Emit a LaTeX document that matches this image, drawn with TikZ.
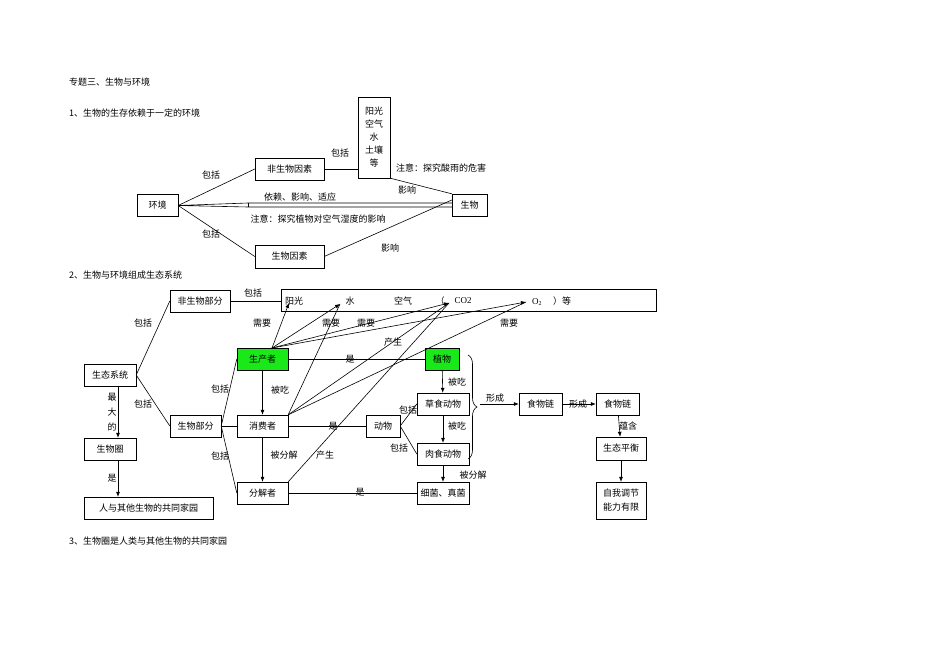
\documentclass[tikz,border=0pt]{standalone}
\usepackage{fontspec}
\setmainfont{Noto Sans CJK SC}
\newfontfamily\lat{Liberation Serif}
\usetikzlibrary{decorations.pathreplacing,arrows.meta}
\begin{document}
\begin{tikzpicture}[x=1pt,y=-1pt,font=\fontsize{9}{11}\selectfont,
 bx/.style={draw,inner sep=0pt,minimum height=22pt},
 gb/.style={bx,fill=green!90!black!90},
 lb/.style={inner sep=1pt},
 ln/.style={line width=0.6pt},
 ar/.style={ln,-{Latex[length=5pt,width=4pt]}}]
\useasboundingbox (0,0) rectangle (950,671);
\node[lb,anchor=west] (t0) at (68,82) {专题三、生物与环境};
\node[lb,anchor=west] (t1) at (68,113) {1、生物的生存依赖于一定的环境};
\node[lb,anchor=west] (t2) at (68,275) {2、生物与环境组成生态系统};
\node[lb,anchor=west] (t3) at (68,541) {3、生物圈是人类与其他生物的共同家园};
% part 1
\node[bx,minimum width=41pt] (hj) at (157.5,205.5) {环境};
\node[bx,minimum width=69pt] (fsw) at (289.5,169) {非生物因素};
\node[draw,minimum width=32pt,minimum height=81pt,inner sep=0pt,align=center,font=\fontsize{9}{13}\selectfont] (yg) at (374,137.5) {阳光\\空气\\水\\土壤\\等};
\node[bx,minimum width=35pt] (sw) at (469.5,205) {生物};
\node[bx,minimum width=69pt,minimum height=23pt] (swy) at (289.5,256.5) {生物因素};
\draw[ln] (hj.east) -- (fsw.west);
\draw[ln] (hj.east) -- (swy.west);
\draw[ln] (fsw.east) -- (yg.west |- fsw.east);
\draw[ln] (yg.south east) -- (sw.north west);
\draw[ln] (swy.east) -- ([yshift=5pt]sw.west);
\coordinate (hA) at (248,203); \coordinate (hB) at (248,207);
\draw[ln] (sw.west |- hA) -- (hA) -- (hj.east) -- (hB) -- (sw.west |- hB);
\draw[ln] (hA) -- (hB);
\node[lb] (a1) at (211,175) {包括};
\node[lb] (a2) at (211,234) {包括};
\node[lb] (a3) at (340,153) {包括};
\node[lb,anchor=west] (a4) at (395,168) {注意：探究酸雨的危害};
\node[lb] (a5) at (407,190) {影响};
\node[lb] (a6) at (300,197) {依赖、影响、适应};
\node[lb] (a7) at (318,219) {注意：探究植物对空气湿度的影响};
\node[lb] (a8) at (390,248) {影响};
% part 2
\node[bx,minimum width=60pt] (fbf) at (200,301) {非生物部分};
\node[bx,minimum width=375pt] (big) at (468.5,300) {};
\node[lb] (y1) at (294,301) {阳光};
\node[lb] (y2) at (350,301) {水};
\node[lb] (y3) at (403,301) {空气};
\node[lb] (y4) at (440,301) {（};
\node[lb] (y5) at (463,301) {\lat CO2};
\node[lb] (y6) at (537,302) {\lat O\textsubscript{2}};
\node[lb] (y7) at (562,301) {）等};
\coordinate (cYG) at (289,303);
\coordinate (cS) at (340,304);
\coordinate (cC) at (449,303);
\coordinate (cO) at (526,302);
\node[bx,minimum width=52pt] (stxt) at (110,375) {生态系统};
\node[bx,minimum width=51pt] (swbf) at (195.5,426) {生物部分};
\node[bx,minimum width=52pt] (swq) at (110,449) {生物圈};
\node[bx,minimum width=129pt] (jy) at (148.5,508) {人与其他生物的共同家园};
\node[gb,minimum width=51pt] (scz) at (262.5,359) {生产者};
\node[bx,minimum width=51pt] (xfz) at (262.5,426) {消费者};
\node[bx,minimum width=51pt] (fjz) at (262.5,493) {分解者};
\node[gb,minimum width=34pt] (zw) at (442,359) {植物};
\node[bx,minimum width=52pt] (cs) at (443,404) {草食动物};
\node[bx,minimum width=34pt] (dw) at (383,426) {动物};
\node[bx,minimum width=52pt] (rs) at (443,454) {肉食动物};
\node[bx,minimum width=52pt] (xj) at (443,493) {细菌、真菌};
\node[bx,minimum width=43pt] (sl1) at (540.5,404) {食物链};
\node[bx,minimum width=43pt] (sl2) at (617.5,404) {食物链};
\node[bx,minimum width=50pt,minimum height=23pt] (stph) at (621,448.5) {生态平衡};
\node[bx,minimum width=50pt,minimum height=37pt,align=center,font=\fontsize{9}{14}\selectfont] (zw2) at (621,500.5) {自我调节\\能力有限};
\draw[ln] (stxt.east) -- (fbf.west);
\draw[ln] (stxt.east) -- (swbf.west);
\draw[ar] (stxt.south -| 118,0) -- (swq.north -| 118,0);
\draw[ar] (swq.south -| 118,0) -- (jy.north -| 118,0);
\draw[ln] (fbf.east) -- (fbf.east -| big.west);
\draw[ln] (swbf.east) -- (scz.west);
\draw[ln] (swbf.east) -- (xfz.west);
\draw[ln] (swbf.east) -- (fjz.west);
\coordinate (pT) at (272,348);
\draw[ar] (pT) -- (cYG);
\draw[ar] (pT) -- (cS);
\draw[ar] (pT) -- (cC);
\draw[ar] (pT) -- (cO);
\draw[ln] (xfz.north east) -- (cS);
\draw[ln] (xfz.north east) -- (cC);
\draw[ln] (xfz.north east) -- (cO);
\draw[ln] (fjz.north east) -- (cC);
\draw[ln] (scz.east) -- (zw.west);
\draw[ar] (scz) -- (xfz);
\draw[ar] (xfz) -- (fjz);
\draw[ln] (xfz.east) -- (dw.west);
\draw[ln] (fjz.east) -- (xj.west);
\draw[ln] (dw.east) -- (cs.west);
\draw[ln] (dw.east) -- (rs.west);
\draw[ar] (zw) -- (cs);
\draw[ar] (cs) -- (rs);
\draw[ar] (rs) -- (xj);
\draw[ln,decorate,decoration={brace,amplitude=9pt}] (468,355) -- (468,459) coordinate (brB);
\coordinate (brT) at (480,404);
\draw[ar] (brT) -- (sl1.west);
\draw[ar] (sl1) -- (sl2);
\draw[ar] (sl2) -- (stph);
\draw[ar] (stph) -- (zw2);
\node[lb] (b1) at (143,323) {包括};
\node[lb] (b2) at (143,404) {包括};
\node[lb,align=center,font=\fontsize{9}{15}\selectfont] (b3) at (112,412) {最\\大\\的};
\node[lb] (b4) at (112,478) {是};
\node[lb] (b5) at (253,293) {包括};
\node[lb] (b6) at (220,389) {包括};
\node[lb] (b7) at (220,456) {包括};
\node[lb] (c1) at (262,323) {需要};
\node[lb] (c2) at (331,323) {需要};
\node[lb] (c3) at (366,323) {需要};
\node[lb] (c4) at (509,323) {需要};
\node[lb] (c5) at (393,342) {产生};
\node[lb] (c6) at (350,359) {是};
\node[lb] (c7) at (280,390) {被吃};
\node[lb] (c8) at (284,455) {被分解};
\node[lb] (c9) at (325,455) {产生};
\node[lb] (c10) at (333,426) {是};
\node[lb] (c11) at (360,492) {是};
\node[lb] (c12) at (408,410) {包括};
\node[lb] (c13) at (399,448) {包括};
\node[lb] (c14) at (457,382) {被吃};
\node[lb] (c15) at (457,426) {被吃};
\node[lb] (c16) at (473,475) {被分解};
\node[lb] (c17) at (495,398) {形成};
\node[lb] (c18) at (578,404) {形成};
\node[lb] (c19) at (628,426) {蕴含};
\end{tikzpicture}
\end{document}
